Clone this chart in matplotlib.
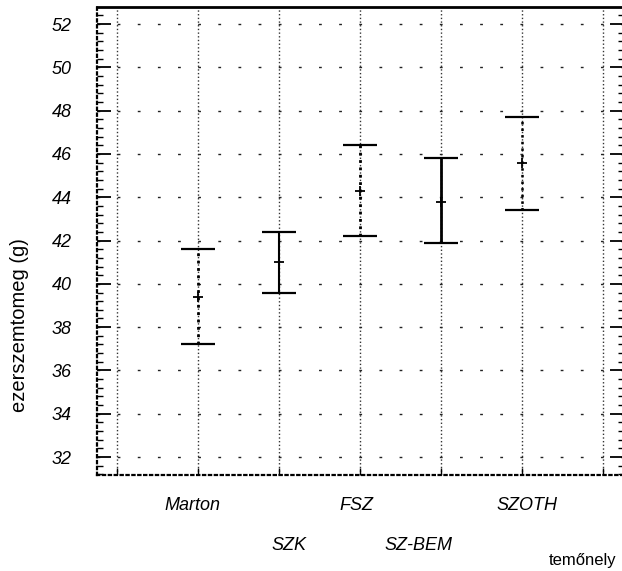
import matplotlib
matplotlib.use("Agg")
import matplotlib.pyplot as plt
from matplotlib.ticker import AutoMinorLocator
import matplotlib.transforms as mtransforms

plt.rcParams['font.family'] = ['Liberation Sans', 'DejaVu Sans']

# ---- data ----
categories = ["Marton", "SZK", "FSZ", "SZ-BEM", "SZOTH"]
means = [39.4, 41.0, 44.3, 43.8, 45.6]
lower = [37.2, 39.6, 42.2, 41.9, 43.4]
upper = [41.6, 42.4, 46.4, 45.8, 47.7]
y_ticks = [32, 34, 36, 38, 40, 42, 44, 46, 48, 50, 52]
y_label = "ezerszemtomeg (g)"
x_label = "temőnely"

# ---- styles ----
line_styles = [':', '-', ':', '-', ':']
line_widths = [2.0, 1.5, 2.0, 2.0, 1.8]
label_dx_px = [-6, 10, -4, -23, 5]

fig = plt.figure(figsize=(6.22, 5.71), dpi=100)
ax = fig.add_axes([97 / 622, 96 / 571, 526.5 / 622, 468 / 571])

positions = list(range(1, len(categories) + 1))
for i, (p, m, lo, up) in enumerate(zip(positions, means, lower, upper)):
    eb = ax.errorbar([p], [m], yerr=[[m - lo], [up - m]], fmt='none',
                     ecolor='black', elinewidth=line_widths[i], capsize=12,
                     capthick=1.6, zorder=3)
    eb[-1][0].set_linestyle(line_styles[i])
    ax.plot([p], [m], marker='+', color='black', markersize=7, mew=1.3, zorder=4)

ax.set_xlim(-0.25, 6.25)
ax.set_ylim(31.17, 52.79)

# grid
ax.set_xticks(range(0, 7))
ax.set_yticks(y_ticks)
ax.yaxis.set_minor_locator(AutoMinorLocator(5))
ax.grid(True, axis='x', linestyle=':', color='#333333', linewidth=1.0)
ax.grid(True, axis='y', linestyle=(0, (2, 12.5)), color='#222222', linewidth=1.0)
ax.set_axisbelow(True)

ax.set_xticklabels([])
ax.set_yticklabels([str(v) for v in y_ticks], fontsize=13, style='italic')
ax.tick_params(axis='y', which='major', direction='in', length=10, width=1.3,
               pad=18, left=True, right=True)
ax.tick_params(axis='y', which='minor', direction='in', length=4, width=1.0,
               left=True, right=True)
ax.tick_params(axis='x', which='major', direction='in', length=5, width=1.0,
               bottom=True, top=False)

for s in ['left', 'bottom']:
    ax.spines[s].set_linestyle(':')
    ax.spines[s].set_linewidth(1.6)
ax.spines['top'].set_linewidth(2.0)
ax.spines['right'].set_visible(False)

# staggered category labels
trans = mtransforms.blended_transform_factory(ax.transData, ax.transAxes)
for i, (p, c) in enumerate(zip(positions, categories)):
    y = -0.065 if i % 2 == 0 else -0.15
    ax.annotate(c, xy=(p, y), xycoords=trans,
                xytext=(label_dx_px[i] * 0.72, 0), textcoords='offset points',
                ha='center', va='center', fontsize=13, style='italic')

ax.set_ylabel(y_label, fontsize=14.5)
ax.yaxis.set_label_coords(-0.13, 0.32)
fig.text(583 / 622, 1 - 561 / 571, x_label, ha='center', va='center', fontsize=12)

fig.savefig("out.png", dpi=100)
